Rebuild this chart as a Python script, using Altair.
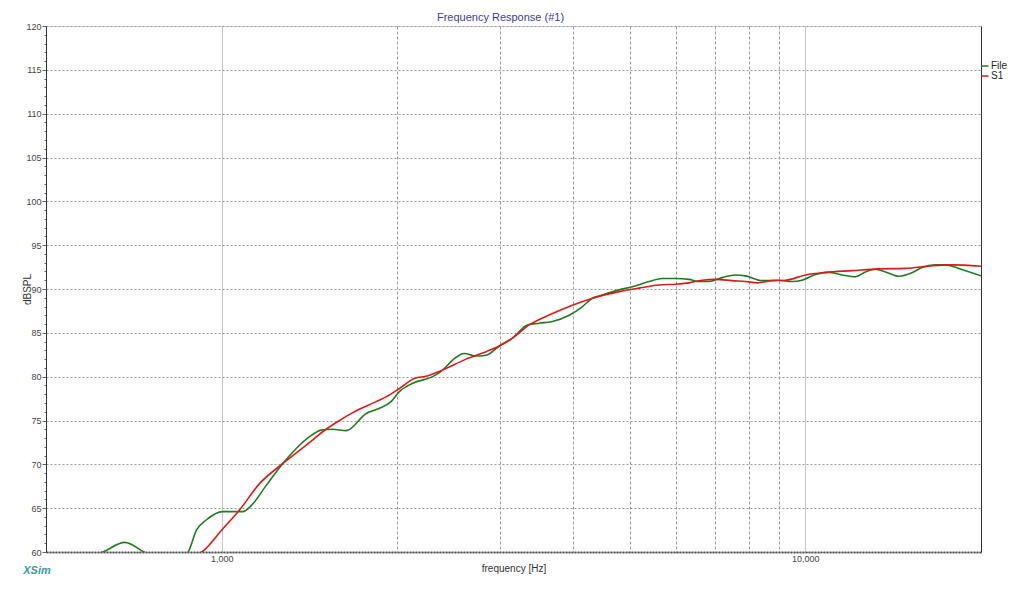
import altair as alt
import pandas as pd

# ---- data ----
file_freq = [560, 626, 682, 736, 805, 876, 905, 941, 1003, 1087, 1131, 1192, 1273, 1342, 1414,
             1481, 1550, 1635, 1768, 1864, 1951, 2016, 2125, 2299, 2391, 2487, 2604, 2728,
             2838, 2990, 3150, 3342, 3500, 3688, 3939, 4151, 4318, 4434, 4797, 5054, 5398,
             5689, 5996, 6320, 6574, 6838, 7206, 7596, 7901, 8436, 9009, 9493, 9874, 10410,
             10970, 11560, 12190, 12680, 13190, 13720, 14450, 15230, 15840, 16700, 17380,
             18310, 20000]
file_db = [59.0, 60.0, 61.1, 60.0, 58.5, 60.0, 62.5, 63.65, 64.6, 64.6, 65.5, 67.6, 70.1, 71.8,
           73.15, 73.9, 74.0, 73.85, 75.8, 76.4, 77.15, 78.3, 79.25, 80.0, 80.75, 81.9, 82.65,
           82.35, 82.45, 83.5, 84.4, 85.9, 86.1, 86.3, 87.0, 88.0, 88.95, 89.2, 89.9, 90.25,
           90.85, 91.2, 91.2, 91.1, 90.85, 90.85, 91.3, 91.6, 91.5, 90.95, 91.0, 90.85, 91.0,
           91.65, 91.9, 91.6, 91.4, 91.95, 92.25, 91.95, 91.45, 91.85, 92.45, 92.75, 92.75,
           92.35, 91.5]

s1_freq = [880, 925, 1003, 1073, 1161, 1273, 1396, 1510, 1592, 1677, 1840, 1913, 2016, 2139,
           2240, 2391, 2622, 2838, 2990, 3150, 3365, 3688, 3990, 4318, 4797, 5189, 5615, 5996,
           6320, 6659, 7020, 7494, 7901, 8277, 8774, 9250, 10010, 10830, 12030, 13360, 14840,
           16480, 17830, 20000]
s1_db = [59.4, 60.0, 62.6, 64.8, 67.8, 70.1, 72.2, 74.0, 75.0, 75.9, 77.15, 77.7, 78.65, 79.8,
         80.05, 80.75, 82.0, 82.85, 83.5, 84.4, 85.9, 87.2, 88.15, 88.95, 89.7, 90.1, 90.45,
         90.55, 90.7, 91.0, 91.1, 90.95, 90.85, 90.7, 90.95, 91.0, 91.6, 91.9, 92.1, 92.3,
         92.35, 92.65, 92.75, 92.6]

x_ticks = [1000, 2000, 3000, 4000, 5000, 6000, 7000, 8000, 9000, 10000]
y_ticks = list(range(60, 121))

df = pd.concat([
    pd.DataFrame({"freq": file_freq, "db": file_db, "series": "File"}),
    pd.DataFrame({"freq": s1_freq, "db": s1_db, "series": "S1"}),
], ignore_index=True)

FONT = "Liberation Sans"
GREEN = "#1f7d1f"
RED = "#dc1a1a"

x_scale = alt.Scale(type="log", domain=[500, 20000], nice=False)
y_scale = alt.Scale(domain=[60, 120], nice=False, zero=False)

x_enc = alt.X(
    "freq:Q",
    scale=x_scale,
    axis=alt.Axis(
        title="frequency [Hz]",
        values=x_ticks,
        format=",d",
        labelExpr="(datum.value == 1000 || datum.value == 10000) ? datum.label : ''",
        ticks=False,
        labelPadding=2,
        labelFontSize=9,
        labelColor="#444444",
        labelFont=FONT,
        titleFont=FONT,
        titleFontSize=10,
        titleFontWeight="normal",
        titleColor="#333333",
        titleY=16,
        titleBaseline="middle",
        domainColor="#555555",
        domainWidth=2,
        domainDash=[2, 1],
        grid=True,
        gridColor={"condition": {"test": "datum.value == 1000 || datum.value == 10000",
                                 "value": "#c8c8c8"}, "value": "#9a9a9a"},
        gridDash={"condition": {"test": "datum.value == 1000 || datum.value == 10000",
                                "value": []}, "value": [3, 2]},
        gridWidth=1,
    ),
)

y_enc = alt.Y(
    "db:Q",
    scale=y_scale,
    axis=alt.Axis(
        title="dBSPL",
        values=y_ticks,
        labelExpr="datum.value % 5 == 0 ? datum.label : ''",
        tickSize={"condition": {"test": "datum.value % 5 == 0", "value": 4}, "value": 2},
        tickColor="#666666",
        labelPadding=1,
        labelFontSize=9,
        labelColor="#444444",
        labelFont=FONT,
        titleFont=FONT,
        titleFontSize=10,
        titleFontWeight="normal",
        titleColor="#333333",
        titleX=-19,
        titleY=263,
        titleAngle=-90,
        titleBaseline="middle",
        domainColor="#333333",
        grid=True,
        gridColor="#9a9a9a",
        gridDash=[2, 2],
        gridOpacity={"condition": {"test": "datum.value % 5 == 0", "value": 1}, "value": 0},
    ),
)

lines = alt.Chart(df).mark_line(clip=True, strokeWidth=1.6, interpolate="monotone").encode(
    x=x_enc,
    y=y_enc,
    color=alt.Color(
        "series:N",
        scale=alt.Scale(domain=["File", "S1"], range=[GREEN, RED]),
        legend=alt.Legend(
            title=None,
            orient="none",
            legendX=934,
            legendY=35,
            symbolType="stroke",
            symbolSize=49,
            symbolStrokeWidth=1.5,
            labelFontSize=10,
            labelFont=FONT,
            labelColor="#222222",
            labelOffset=1,
            rowPadding=0,
            padding=0,
        ),
    ),
    order="freq:Q",
)

right_axis = alt.Chart(df).mark_line(opacity=0).encode(
    x=x_enc,
    y=alt.Y("db:Q", scale=y_scale,
            axis=alt.Axis(orient="right", title=None, labels=False, ticks=False, grid=False,
                          domainColor="#333333")),
    detail="series:N",
)

logo = alt.Chart(pd.DataFrame({"t": ["XSim"]})).mark_text(
    font=FONT, fontSize=11, fontWeight="bold", fontStyle="italic", color="#3a9a9a",
    align="center", baseline="middle", clip=False,
).encode(x=alt.value(-9), y=alt.value(545), text="t:N")

chart = alt.layer(lines, right_axis, logo).resolve_axis(y="independent").properties(
    width=935,
    height=526,
    padding={"left": 38, "top": 18, "right": 34, "bottom": 29},
    autosize=alt.AutoSizeParams(type="none"),
    title=alt.TitleParams("Frequency Response (#1)", fontSize=11, font=FONT,
                          fontWeight="normal", color="#3b3ba8", offset=-1, dx=-13),
).configure_view(stroke=None).configure(background="white")

chart.save("out.html", embed_options={"renderer": "svg", "actions": False})
